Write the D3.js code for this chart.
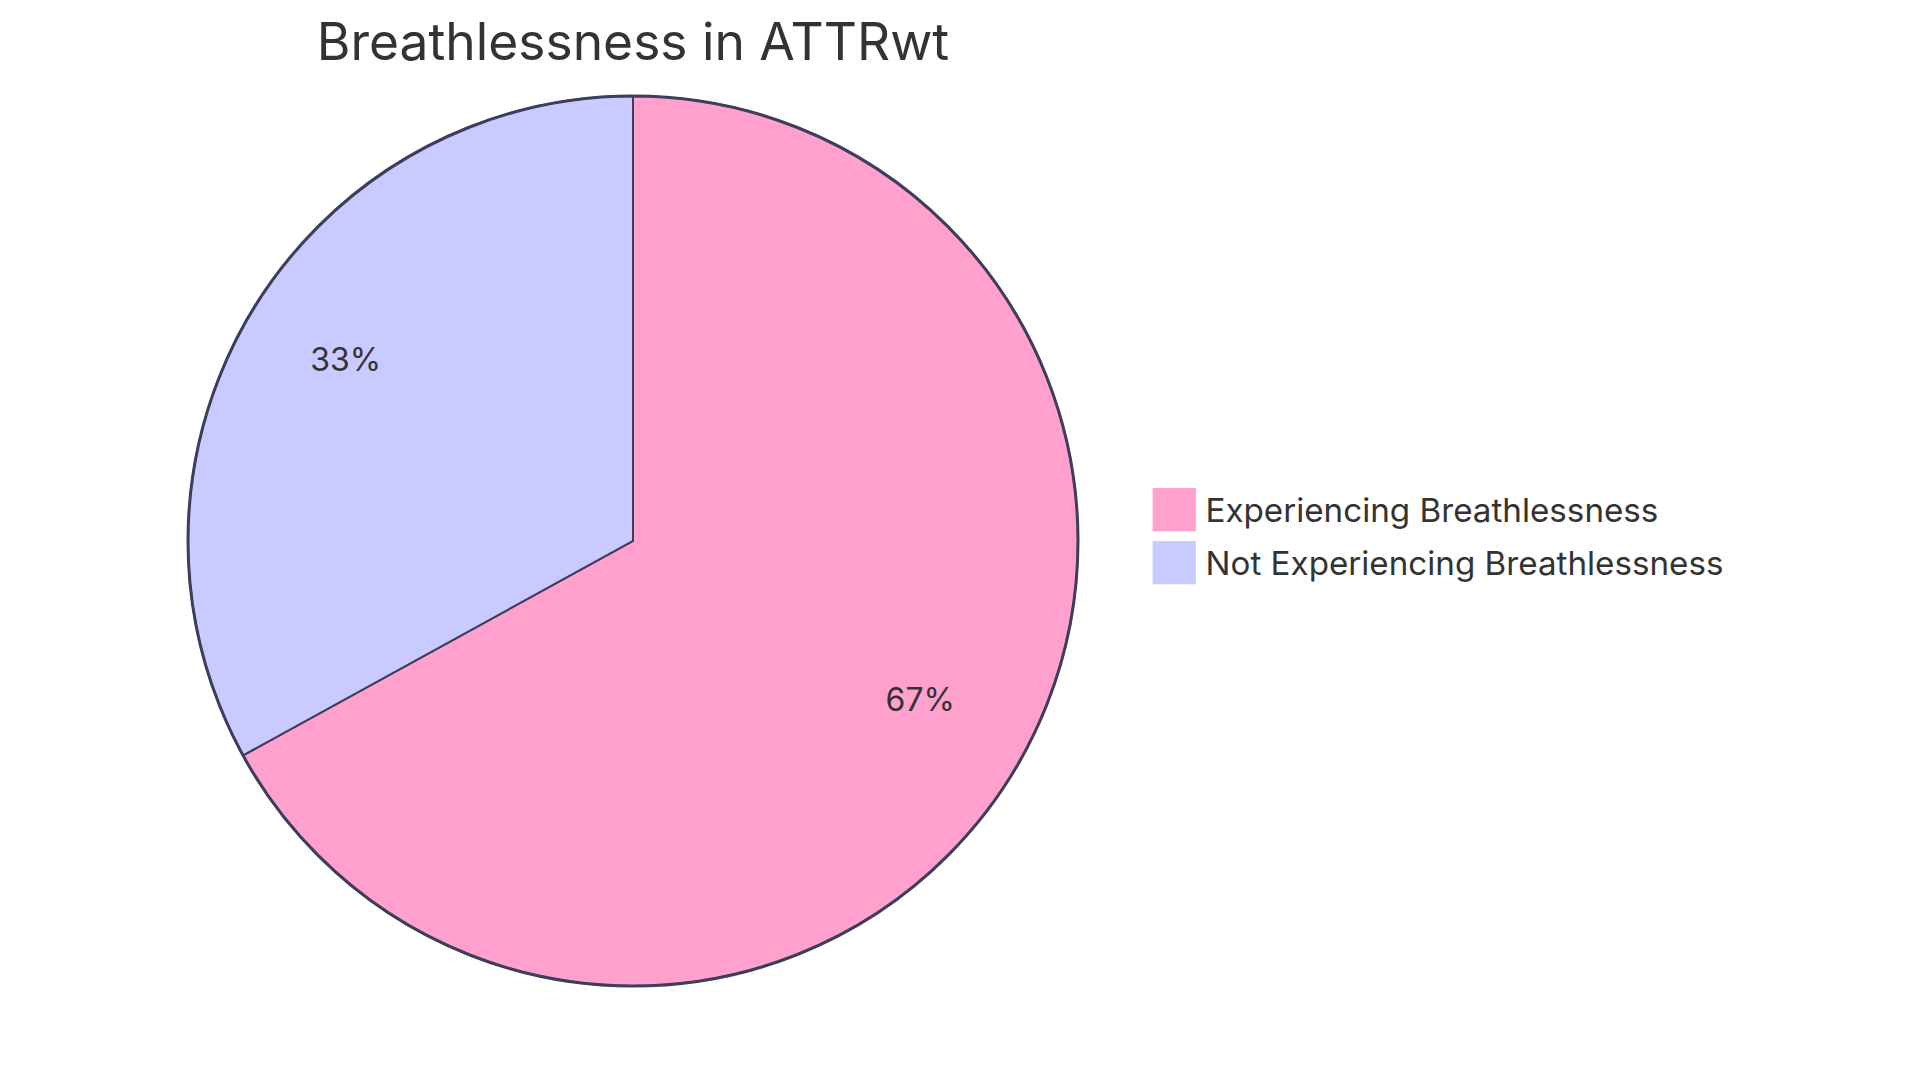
<!DOCTYPE html>
<html>
<head>
<meta charset="utf-8">
<script src="https://cdn.jsdelivr.net/npm/d3@7"></script>
<style>
  body { margin: 0; background: #fff; }
  svg text { font-family: Inter, "Noto Sans", sans-serif; fill: #333; }
</style>
</head>
<body>
<div id="chart"></div>
<script>
// Chart data
const TITLE = "Breathlessness in ATTRwt";
const categories = ["Experiencing Breathlessness", "Not Experiencing Breathlessness"];
const values = [67, 33];
const colors = ["#ffa1cc", "#c9caff"];

// Layout
const WIDTH = 1920;
const HEIGHT = 1083;
const CENTER = { x: 633, y: 541 };
const RADIUS = 445;
const SCALE = RADIUS / 185;   // mermaid-like units -> pixels
const STROKE = "#3d3e5c";

setup();

function setup () {
    const svg = d3.select("#chart").append("svg")
        .attr("width", WIDTH).attr("height", HEIGHT);

    const g = svg.append("g")
        .attr("transform", `translate(${CENTER.x},${CENTER.y})`);

    const data = categories.map((c, i) => ({ label: c, value: values[i], color: colors[i] }));
    const total = d3.sum(values);

    const pie = d3.pie().value(d => d.value).sort(null);
    const arc = d3.arc().innerRadius(0).outerRadius(RADIUS);
    const labelArc = d3.arc().innerRadius(RADIUS * 0.75).outerRadius(RADIUS * 0.75);

    // Slices
    g.selectAll(".slice")
        .data(pie(data))
        .enter().append("path")
        .attr("class", "slice")
        .attr("d", arc)
        .attr("fill", d => d.data.color)
        .attr("stroke", STROKE)
        .attr("stroke-width", 2);

    // Outer ring
    g.append("circle")
        .attr("r", RADIUS)
        .attr("fill", "none")
        .attr("stroke", STROKE)
        .attr("stroke-width", 3);

    // Percent labels
    g.selectAll(".pct")
        .data(pie(data))
        .enter().append("text")
        .attr("class", "pct")
        .attr("transform", d => `translate(${labelArc.centroid(d)})`)
        .attr("text-anchor", "middle")
        .attr("font-size", 32)
        .text(d => (100 * d.data.value / total).toFixed(0) + "%");

    // Title
    g.append("text")
        .attr("x", 0)
        .attr("y", -200 * SCALE)
        .attr("text-anchor", "middle")
        .attr("font-size", 51.5)
        .text(TITLE);

    // Legend
    const step = 22 * SCALE;
    const legend = g.selectAll(".legend")
        .data(data)
        .enter().append("g")
        .attr("class", "legend")
        .attr("transform", (d, i) => `translate(${216 * SCALE},${i * step - step * data.length / 2})`);

    legend.append("rect")
        .attr("width", 18 * SCALE)
        .attr("height", 18 * SCALE)
        .attr("fill", d => d.color);

    legend.append("text")
        .attr("x", 22 * SCALE)
        .attr("y", 14 * SCALE)
        .attr("font-size", 33.2)
        .text(d => d.label);
}
</script>
</body>
</html>
